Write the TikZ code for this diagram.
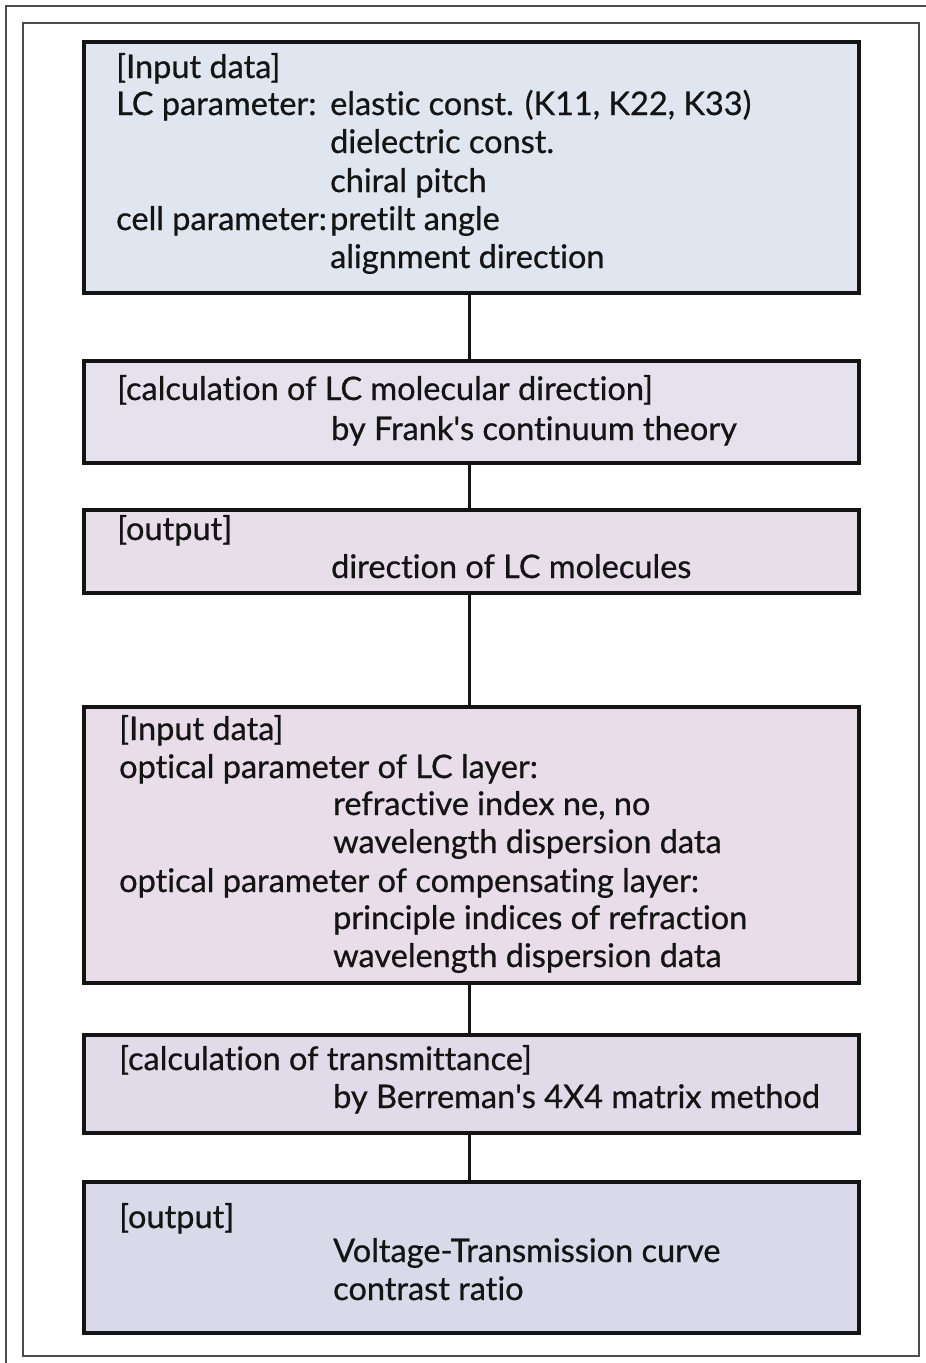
\documentclass[tikz,border=0pt]{standalone}
\usepackage{fontspec}
\setmainfont{Lato}[Ligatures=NoCommon,FakeBold=0.7]
\definecolor{fillA}{HTML}{E0E6EF}
\definecolor{fillB}{HTML}{E5E2EE}
\definecolor{fillC}{HTML}{E8DEEA}
\definecolor{fillD}{HTML}{E9DDE9}
\definecolor{fillE}{HTML}{E1DAE9}
\definecolor{fillF}{HTML}{DAD9EA}
\definecolor{ink}{HTML}{141414}
\begin{document}
\begin{tikzpicture}[x=1pt,y=-1pt,
  box/.style={draw=ink,line width=3.6pt,rectangle,inner sep=0pt,minimum width=775pt},
  txt/.style={anchor=base west,inner sep=0pt,font=\fontsize{32.5}{38}\selectfont,text=ink},
  link/.style={draw=ink,line width=3pt},
  frame/.style={draw=black!70,line width=1.4pt}]
\useasboundingbox (0,0) rectangle (926,1363);
\draw[frame] (6,1400) -- (6,6) -- (960,6);
\draw[frame] (23,23) rectangle (919,1356);
% boxes
\node[box,fill=fillA,minimum height=251pt] (b1) at (471.5,167.5) {};
\node[box,fill=fillB,minimum height=102pt] (b2) at (471.5,412) {};
\node[box,fill=fillC,minimum height=83pt] (b3) at (471.5,551.5) {};
\node[box,fill=fillD,minimum height=276pt] (b4) at (471.5,845) {};
\node[box,fill=fillE,minimum height=98pt] (b5) at (471.5,1084) {};
\node[box,fill=fillF,minimum height=151pt] (b6) at (471.5,1257.5) {};
\coordinate (cx) at (469,0);
\draw[link] (b1.south -| cx) -- (b2.north -| cx);
\draw[link] (b2.south -| cx) -- (b3.north -| cx);
\draw[link] (b3.south -| cx) -- (b4.north -| cx);
\draw[link] (b4.south -| cx) -- (b5.north -| cx);
\draw[link] (b5.south -| cx) -- (b6.north -| cx);
% box 1 text
\node[txt] (t11) at (116,78) {[Input data]};
\node[txt] (t12) at (116,115) {LC parameter:};
\node[txt] (t13) at (330,115) {elastic const. (K11, K22, K33)};
\node[txt] (t14) at (330,153) {dielectric const.};
\node[txt] (t15) at (330,192) {chiral pitch};
\node[txt] (t16) at (116,230) {cell parameter:};
\node[txt] (t17) at (330,230) {pretilt angle};
\node[txt] (t18) at (330,268) {alignment direction};
% box 2
\node[txt] (t21) at (117,400) {[calculation of LC molecular direction]};
\node[txt] (t22) at (331,440) {by Frank\textquotesingle s continuum theory};
% box 3
\node[txt] (t31) at (117,540) {[output]};
\node[txt] (t32) at (331,578) {direction of LC molecules};
% box 4
\node[txt] (t41) at (119,740) {[Input data]};
\node[txt] (t42) at (119,778) {optical parameter of LC layer:};
\node[txt] (t43) at (333,815) {refractive index ne, no};
\node[txt] (t44) at (333,853) {wavelength dispersion data};
\node[txt] (t45) at (119,892) {optical parameter of compensating layer:};
\node[txt] (t46) at (333,929) {principle indices of refraction};
\node[txt] (t47) at (333,967) {wavelength dispersion data};
% box 5
\node[txt] (t51) at (119,1070) {[calculation of transmittance]};
\node[txt] (t52) at (333,1108) {by Berreman\textquotesingle s 4X4 matrix method};
% box 6
\node[txt] (t61) at (119,1228) {[output]};
\node[txt] (t62) at (333,1262) {Voltage-Transmission curve};
\node[txt] (t63) at (333,1300) {contrast ratio};
\end{tikzpicture}
\end{document}
